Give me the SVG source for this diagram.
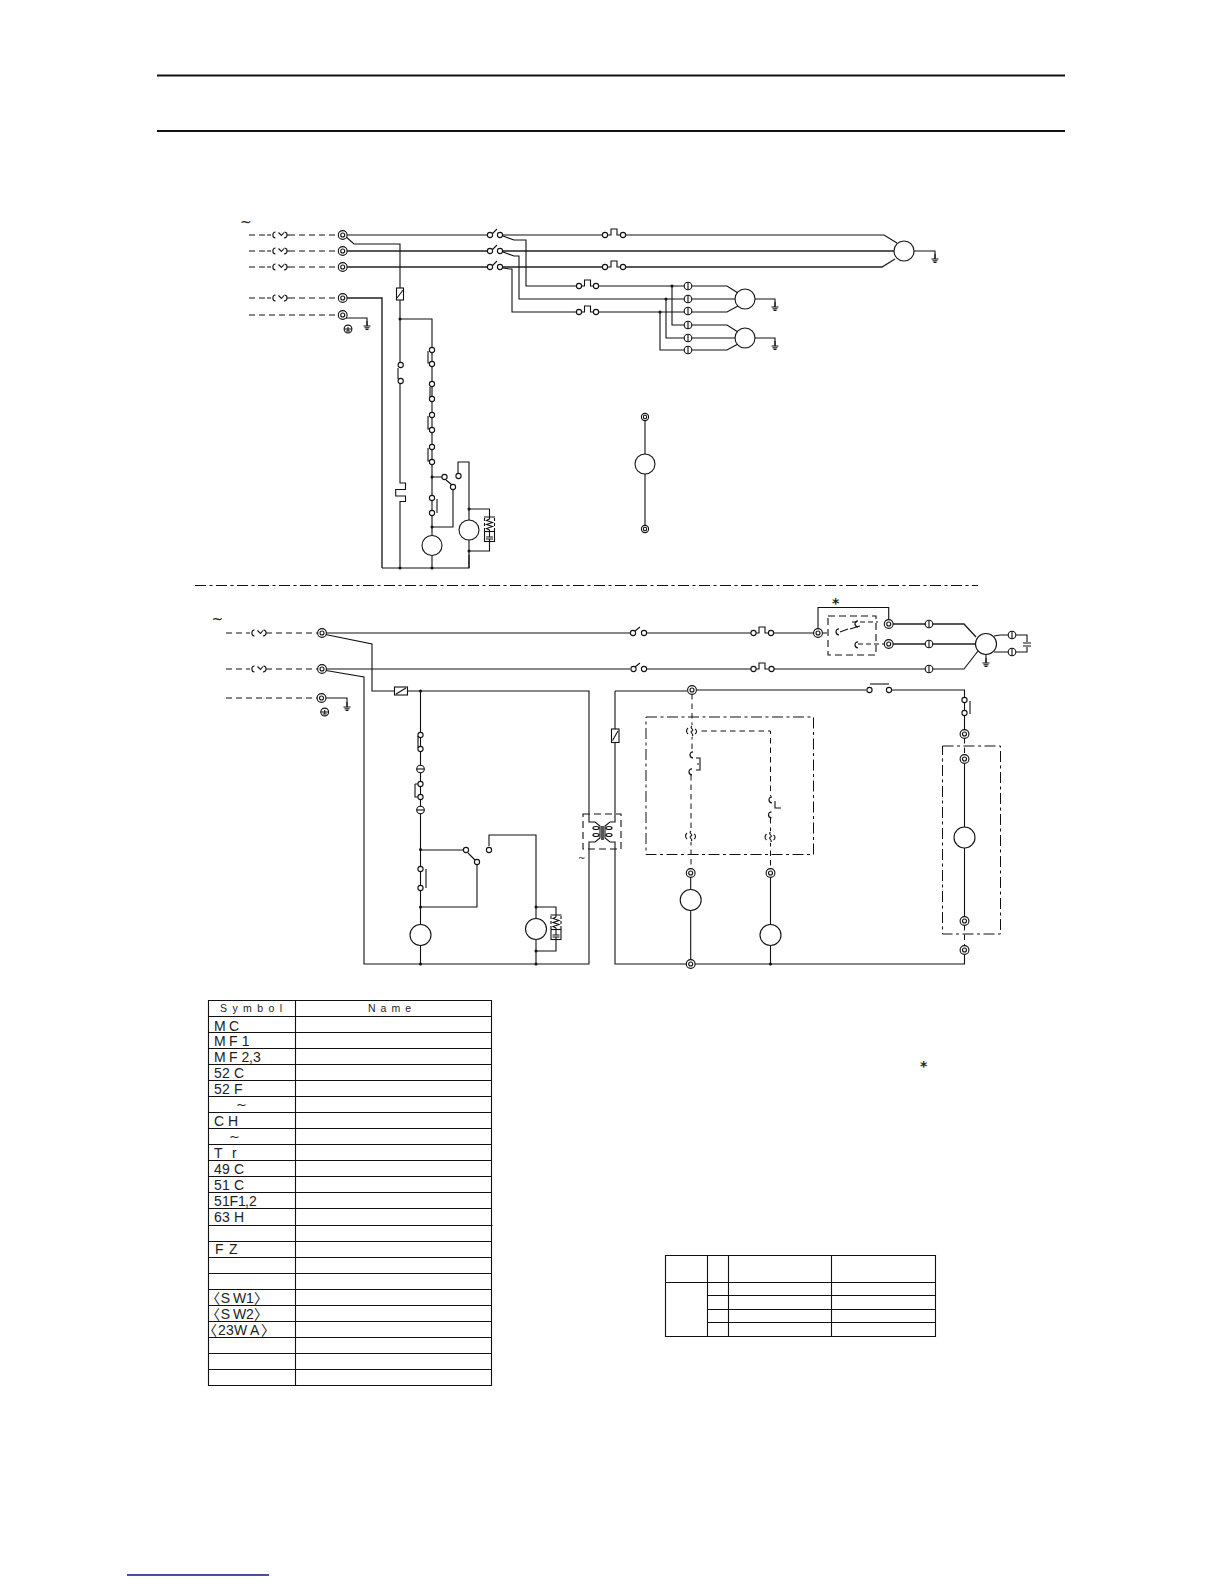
<svg xmlns="http://www.w3.org/2000/svg" width="1224" height="1584" viewBox="0 0 1224 1584">
<style>
.w{fill:none;stroke:#111;stroke-width:1.1}
.h{fill:none;stroke:#222;stroke-width:1.4}
.d{fill:none;stroke:#111;stroke-width:1;stroke-dasharray:6 4}
.dl{fill:none;stroke:#111;stroke-width:1;stroke-dasharray:5.5 4}
.dd{fill:none;stroke:#111;stroke-width:1;stroke-dasharray:11 3.5 3 3.5}
.m{fill:#fff;stroke:#111;stroke-width:1.1}
.dot{fill:#111}
.t{fill:none;stroke:#111;stroke-width:1.2}
.sym{font-family:"Liberation Sans","Noto Sans CJK JP",sans-serif;font-size:14px;fill:#222}
.til{font-family:"DejaVu Sans",sans-serif;font-size:13px;fill:#222}
.hd{font-family:"Liberation Sans",sans-serif;font-size:10.5px;fill:#222}
.tl{font-family:"DejaVu Sans",sans-serif;font-size:14px;fill:#222}
.st{font-family:"DejaVu Sans",sans-serif;font-size:14px;font-weight:bold;fill:#222}
</style>
<defs>
<g id="term"><circle r="4.4" class="m"/><circle r="2" class="m"/></g>
<g id="terms"><circle r="3.6" class="m"/><circle r="1.7" class="m"/></g>
<circle id="c" r="2.6" class="m"/>
<circle id="j" r="1.5" class="dot"/>
<g id="pt"><circle r="3.8" class="m"/><path d="M0-3.800V3.800" class="w"/></g>
<g id="ph"><circle r="3.800" class="m"/><path d="M-3.800 0H3.800" class="w"/></g>
<g id="fu"><rect x="-11" y="-3.500" width="22" height="7" fill="#fff"/><path d="M-11 0H-7M-2.500-3C-6-3-6 3-2.500 3M.5-2.500L3.500.5 6-2.500M6.500-3C10-2.500 10 2.500 6 3M8.500 0H11" class="w"/></g>
<g id="gnd"><path d="M0 0V5M-3.500 5H3.500M-2.500 6.800H2.500M-1.500 8.400H1.500" class="w"/></g>
<g id="eg"><circle r="3.900" class="m"/><path d="M-3.900 0H3.900M0-2V2M-2 2H2" class="w"/></g>
<g id="ol"><path d="M-6.500 0H-3V-6H3V0H6.500" class="w"/></g>
<g id="rc"><path d="M-5.500-6H5.500M0-6V-4L-3-2.500 3-.5-3 1.500 3 3.500-3 5.500 0 7V14M-3.500 14H3.500M-3.500 16H3.500M0 16V18" class="w"/><path d="M-5-5V8M5-5V8" class="w" stroke-dasharray="3 2"/><rect x="-5" y="8.500" width="10" height="10" class="w"/></g>
<g id="cs"><rect x="-7" y="-6" width="14" height="12" fill="#fff"/><path d="M-4-3C-6-1-6 1-4 3M0-5C-3-3 3-1 0 0C-3 1 3 4 0 5M3-2C5-1 5 2 3 3" class="w"/></g>
<g id="cc"><path d="M1-3.200A3 3 0 1 0 1 2.800" class="t"/></g>
</defs>

<g id="rules">
<path d="M157 75.500H1065M157 131H1065" stroke="#111" stroke-width="1.900" fill="none"/>
<path d="M127 1575H269" stroke="#101080" stroke-width="1.300" fill="none"/>
<path d="M195 585.500H978" class="dd"/>
</g>

<g id="connectors">
<path class="d" d="M249 235H342M249 251H342M249 267H342M249 298H342M249 315H342"/>
<path class="w" d="M343 235H487M503 235H602M626 235H884L897 243"/>
<path class="h" d="M343 251H487M503 251H894M343 267H487M503 267H602M626 267H882L895 259"/>
<path class="w" d="M345 236L354 244H400V288M400 300V362M400 384V483H405.500V489.500H395.700V496H405.500V501.500H400V568"/>
<path class="h" d="M343 298H382V568"/>
<path class="w" d="M382 568H469V555"/>
<path class="w" d="M343 318H367V326"/>
<path class="w" d="M503 236L514 240H526V286H577M503 252L514 256H519V299H666M503 268L510 269H512V312H577"/>
<path class="w" d="M598 286H727L738 293M598 312H727L738 306M666 299H736M672 286V325H727L738 332M666 299V338H736M660 312V350H727L738 344"/>
<path class="w" d="M914 251H935V259M755 299H775V307M755 338H775V346"/>
<path class="w" d="M645 421V454M645 474V525"/>
<path class="w" d="M400 319H432V535M432 477H442M446 480L452 485M453 490V527H432M458 473V462H469V520M469 540V568M469 509H489.500V517M489.500 542V551H469M432 555V568"/>
<path class="d" d="M226 633H322M226 669H322M226 698H322"/>
<path class="w" d="M322 633H630M647 633H751M773 633H814M322 669H630M647 669H751M773 669H964L978 651M323 634L372 644V691H394M408 691H589V814M323 670L364 677V964H589V849"/>
<path class="w" d="M822 633H830M852 622H878M858 644H884" stroke-dasharray="5 3"/>
<path class="w" d="M818 629V607.500H888.700V620"/>
<path class="h" d="M893 624H964L976 637M893 644H976"/>
<path class="w" d="M326 698H347V707M994 636L1000 635H1008M994 652L1000 652H1008M1016 635H1027V642M1016 652H1027V647M1023 643H1031M1023 646H1031M986 654V663"/>
<path class="w" d="M420.500 691V925M420.500 945V964M420.500 850H464M468 853L475 860M477 864V907H420.500M489 846V835H536V918M536 940V964M536 907H556V915M556 940V951H536"/>
<path class="w" d="M615 691V814M615 849V964H964.500V954M615 691H687M697 690H866M892 690H964.500V697M964.500 703V710M964.500 716V730"/>
<path class="dl" d="M692 694V728M692 734V750M691 775V832M691 840V869M692 731H770.500V796M770.500 818V833M770.500 841V869M964.500 738V755M964.500 925V946"/>
<path class="w" d="M690.700 877V890M690.700 911V960M770.500 877V925M770.500 946V964M964.500 763V827M964.500 848V917"/>
<path class="dd" d="M646 717H813.500V854.500H646Z"/>
<path class="dd" d="M942.500 746H1000.500V934H942.500Z"/>
<path class="w" d="M828 616H876V655H828Z" stroke-dasharray="7 4"/>
<path class="w" d="M583 814H621V849H583Z" stroke-dasharray="7 4"/>
<path class="w" d="M589 814V822H595L600 826V838L595 842H589V849M615 814V822H610L605 826V838L610 842H615V849"/>
</g>

<g id="T1"><use href="#term" x="342.700" y="235"/><use href="#term" x="342.700" y="251"/><use href="#term" x="342.700" y="267"/><use href="#term" x="342.700" y="298"/><use href="#term" x="342.700" y="315"/><use href="#eg" x="348" y="329"/><use href="#gnd" x="367" y="321"/></g>
<g id="FU1"><use href="#fu" x="278" y="235"/><use href="#fu" x="278" y="251"/><use href="#fu" x="278" y="267"/><use href="#fu" x="278" y="298"/></g>
<g id="S52C"><path class="w" d="M492 234L497 229M492 250L497 245M492 266L497 261"/><use href="#c" x="490" y="235"/><use href="#c" x="500" y="235"/><use href="#c" x="490" y="251"/><use href="#c" x="500" y="251"/><use href="#c" x="490" y="267"/><use href="#c" x="500" y="267"/></g>
<g id="OL1"><use href="#ol" x="614" y="235"/><use href="#c" x="605" y="235"/><use href="#c" x="623" y="235"/><use href="#ol" x="614" y="267"/><use href="#c" x="605" y="267"/><use href="#c" x="623" y="267"/></g>
<g id="OL2"><use href="#ol" x="587.500" y="286"/><use href="#c" x="579" y="286"/><use href="#c" x="596" y="286"/><use href="#ol" x="587.500" y="312"/><use href="#c" x="579" y="312"/><use href="#c" x="596" y="312"/></g>
<g id="MC1"><circle class="m" cx="904" cy="251" r="10"/><use href="#gnd" x="935" y="254"/></g>
<g id="MF1"><circle class="m" cx="745" cy="299" r="10"/><use href="#gnd" x="775" y="302"/></g>
<g id="MF2"><circle class="m" cx="745" cy="338" r="10"/><use href="#gnd" x="775" y="341"/></g>
<g id="PT1"><use href="#pt" x="688" y="286"/><use href="#pt" x="688" y="299"/><use href="#pt" x="688" y="311"/><use href="#pt" x="688" y="325"/><use href="#pt" x="688" y="338"/><use href="#pt" x="688" y="350"/><use href="#j" x="672" y="286"/><use href="#j" x="666" y="299"/><use href="#j" x="660" y="312"/></g>
<g id="MS"><use href="#terms" x="645" y="417"/><circle class="m" cx="645" cy="464" r="10"/><use href="#terms" x="645" y="529"/></g>
<g id="F1"><rect class="m" x="396.500" y="288" width="7" height="12"/><path class="w" d="M397 298L403 290"/></g>
<g id="C1"><use href="#c" x="400.700" y="365"/><use href="#c" x="400.700" y="381"/><path class="w" d="M398 368V379"/><use href="#j" x="400" y="319"/></g>
<g id="C2"><path class="w" d="M428 351V363H431M428 416V429H431M428 448V461H431M430 387V397"/><use href="#c" x="432" y="350"/><use href="#c" x="432" y="364"/><use href="#c" x="432" y="384"/><use href="#c" x="432" y="399"/><use href="#c" x="432" y="415"/><use href="#c" x="432" y="430"/><use href="#c" x="432" y="447"/><use href="#c" x="432" y="462"/><use href="#j" x="432" y="477"/></g>
<g id="S1"><use href="#c" x="444.500" y="477"/><use href="#c" x="453" y="487"/><use href="#c" x="458.500" y="476"/><use href="#c" x="432" y="498"/><use href="#c" x="432" y="513"/><path class="w" d="M437 499V513"/><use href="#j" x="432" y="527"/></g>
<g id="M3"><circle class="m" cx="432" cy="545.500" r="10"/></g>
<g id="M4"><circle class="m" cx="469" cy="530" r="10"/><use href="#j" x="469" y="509"/><use href="#j" x="469" y="551"/><use href="#rc" x="489.500" y="523"/><use href="#j" x="400" y="568"/><use href="#j" x="432" y="568"/></g>

<g id="T2"><use href="#term" x="322" y="633"/><use href="#term" x="322" y="669"/><use href="#term" x="321.500" y="698"/><use href="#eg" x="324.700" y="712"/><use href="#gnd" x="347" y="702"/></g>
<g id="FU2"><use href="#fu" x="257" y="633"/><use href="#fu" x="257" y="669"/></g>
<g id="S52C2"><path class="w" d="M635 631L640 627M635 667L640 663"/><use href="#c" x="633" y="633"/><use href="#c" x="644" y="633"/><use href="#c" x="633.500" y="669"/><use href="#c" x="644" y="669"/></g>
<g id="OL3"><use href="#ol" x="762" y="633"/><use href="#c" x="753.500" y="633"/><use href="#c" x="771" y="633"/><use href="#ol" x="762" y="669"/><use href="#c" x="753.500" y="669"/><use href="#c" x="771.500" y="669"/></g>
<g id="R"><use href="#term" x="818" y="633"/><use href="#term" x="888.700" y="624"/><use href="#term" x="888.700" y="644"/><use href="#cc" x="838" y="632"/><use href="#cc" x="857" y="624"/><use href="#cc" x="857" y="645"/><path class="w" d="M840 632L848 629M850 629L860 626"/></g>
<g id="STAR"><text class="st" x="832" y="608">*</text></g>
<g id="PT2"><use href="#pt" x="929" y="624"/><use href="#pt" x="929" y="644"/><use href="#pt" x="929" y="669"/><use href="#pt" x="1012" y="635"/><use href="#pt" x="1012" y="652"/></g>
<g id="MC2"><circle class="m" cx="986" cy="644" r="10.500"/><use href="#gnd" x="986" y="658"/></g>
<g id="F2"><rect class="m" x="394.500" y="687" width="13" height="8"/><path class="w" d="M396 694L406 688"/><use href="#j" x="420.500" y="691"/></g>
<g id="C3"><use href="#c" x="420.500" y="735"/><use href="#c" x="420.500" y="749"/><use href="#ph" x="420.500" y="769"/><path class="w" d="M418 736V748M415 784V797H418M415 784H418"/><use href="#c" x="420.500" y="784"/><use href="#c" x="420.500" y="797"/><use href="#ph" x="420.500" y="810"/></g>
<g id="S2"><use href="#j" x="420.500" y="849.500"/><use href="#c" x="466" y="850"/><use href="#c" x="477" y="862"/><use href="#c" x="489" y="850"/><use href="#c" x="420.500" y="869"/><use href="#c" x="420.500" y="888"/><path class="w" d="M426 869V888"/><use href="#j" x="420.500" y="907"/></g>
<g id="M5"><circle class="m" cx="420.500" cy="935" r="10.500"/><use href="#j" x="420.500" y="964"/></g>
<g id="M6"><circle class="m" cx="536" cy="929" r="10.500"/><use href="#j" x="536" y="907"/><use href="#j" x="536" y="951"/><use href="#j" x="536" y="964"/><use href="#rc" x="556" y="921"/></g>
<g id="F3"><rect class="m" x="611.500" y="729" width="7.500" height="13.500"/><path class="w" d="M612.500 740.500L618 731"/></g>
<g id="TR"><use href="#term" x="692" y="690"/><ellipse class="t" cx="596" cy="828" rx="3" ry="1.500"/><ellipse class="t" cx="596" cy="835" rx="3" ry="1.500"/><ellipse class="t" cx="609" cy="828" rx="3" ry="1.500"/><ellipse class="t" cx="609" cy="835" rx="3" ry="1.500"/><rect x="601" y="826" width="3" height="14" fill="#555"/></g>
<g id="K"><use href="#c" x="869.500" y="690"/><use href="#c" x="889" y="690"/><path class="w" d="M870 684H889"/><use href="#c" x="964.500" y="700"/><use href="#c" x="964.500" y="713"/><path class="w" d="M970 701V714"/><use href="#term" x="964.500" y="734"/></g>
<g id="M7"><use href="#term" x="964.500" y="759"/><circle class="m" cx="964.500" cy="837.500" r="10.500"/><use href="#term" x="964.500" y="921"/><use href="#term" x="964.500" y="950"/></g>
<g id="CS"><use href="#cs" x="692" y="731"/><use href="#cs" x="691" y="836"/><use href="#cs" x="770.500" y="837"/><use href="#cc" x="692" y="755"/><use href="#cc" x="691" y="772"/><path class="w" d="M696 758H700V770H696M697 764H699"/><use href="#cc" x="771" y="800"/><use href="#cc" x="770.500" y="815"/><path class="w" d="M775 801V808H781"/></g>
<g id="M8"><use href="#term" x="690.700" y="873"/><circle class="m" cx="690.700" cy="900" r="10.500"/><use href="#term" x="690.700" y="964"/></g>
<g id="M9"><use href="#term" x="770.500" y="873"/><circle class="m" cx="770.500" cy="935" r="10.500"/><use href="#j" x="770.500" y="964"/></g>
<g id="TIL">
<text class="tl" x="240" y="227">~</text><text class="tl" x="211.500" y="624">~</text><text class="tl" x="578" y="861" style="font-size:9px">~</text>
<text class="st" x="920" y="1071">*</text>
</g>

<g id="table1">
<path class="w" d="M208.500 1000.500H491.500V1385.500H208.500ZM295.500 1000.500V1385.500M208.500 1016.500H491.500M208.500 1032.500H491.500M208.500 1048.500H491.500M208.500 1064.500H491.500M208.500 1080.500H491.500M208.500 1096.500H491.500M208.500 1112.500H491.500M208.500 1128.500H491.500M208.500 1144.500H491.500M208.500 1160.500H491.500M208.500 1176.500H491.500M208.500 1192.500H491.500M208.500 1208.500H491.500M208.500 1225.500H492.500M208.500 1241.500H491.500M208.500 1257.500H491.500M208.500 1273.500H491.500M208.500 1289.500H491.500M208.500 1305.500H491.500M208.500 1321.500H491.500M208.500 1337.500H491.500M208.500 1353.500H491.500M208.500 1369.500H491.500"/>
<text class="hd" x="220" y="1012" textLength="62">Symbol</text>
<text class="hd" x="368" y="1012" textLength="43">Name</text>
<text class="sym" x="214 229" y="1030.500">MC</text>
<text class="sym" x="214 229 241.700" y="1046">MF1</text>
<text class="sym" x="214 229 241.500 249 253" y="1062">MF2,3</text>
<text class="sym" x="214 222 234" y="1078">52C</text>
<text class="sym" x="214 222 234" y="1094">52F</text>
<text class="til" x="236" y="1109">~</text>
<text class="sym" x="214 228" y="1126">CH</text>
<text class="til" x="229" y="1141">~</text>
<text class="sym" x="214 232" y="1158">Tr</text>
<text class="sym" x="214 222 234" y="1174">49C</text>
<text class="sym" x="214 222 234" y="1190">51C</text>
<text class="sym" x="214 222 229.500 238 245 249" y="1206">51F1,2</text>
<text class="sym" x="214 222 234" y="1222">63H</text>
<text class="sym" x="215 229" y="1254">FZ</text>
<text class="sym" x="206 220.700 233 246 254" y="1303">〈SW1〉</text>
<text class="sym" x="206 220.700 233 246 254" y="1319">〈SW2〉</text>
<text class="sym" x="203 218 226 234 250 261" y="1335">〈23WA〉</text>
</g>
<g id="table2">
<path class="w" d="M665.500 1255.500H935.500V1336.500H665.500ZM707.500 1255.500V1336.500M728.500 1255.500V1336.500M831.500 1255.500V1336.500M665.500 1282.500H935.500M707.500 1295.500H935.500M707.500 1309.500H935.500M707.500 1322.500H935.500"/>
</g>
</svg>
